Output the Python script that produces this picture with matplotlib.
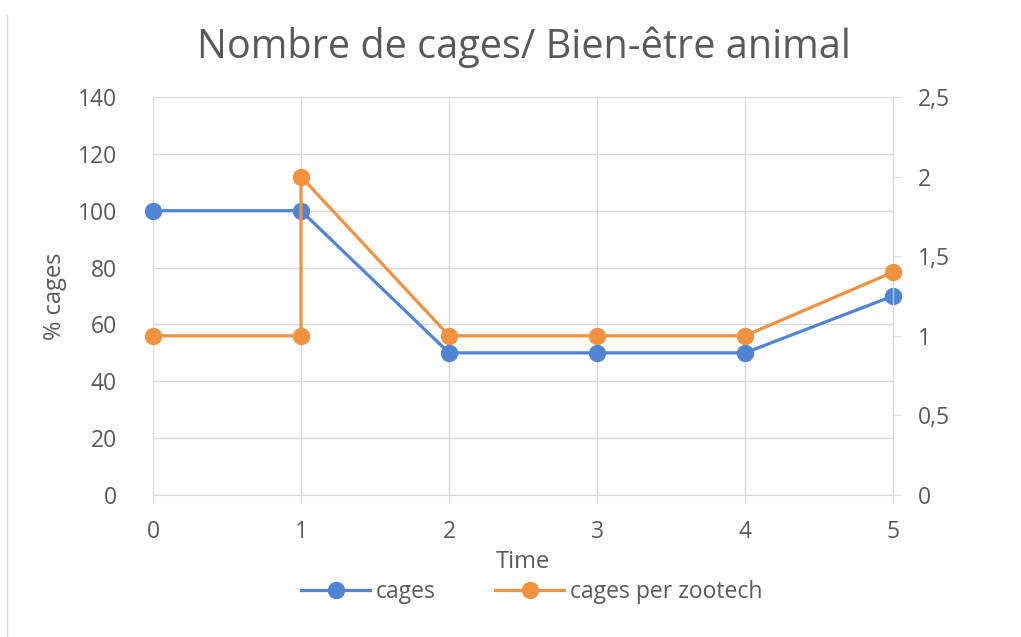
import matplotlib
matplotlib.use("Agg")
import matplotlib.pyplot as plt
from matplotlib.lines import Line2D

# Data
time_cages = [0, 1, 2, 3, 4, 5]
cages = [100, 100, 50, 50, 50, 70]
time_zoo = [0, 1, 1, 2, 3, 4, 5]
cages_per_zootech = [1, 1, 2, 1, 1, 1, 1.4]
left_ticks = [0, 20, 40, 60, 80, 100, 120, 140]
right_ticks = [0, 0.5, 1, 1.5, 2, 2.5]
right_labels = ["0", "0,5", "1", "1,5", "2", "2,5"]
x_ticks = [0, 1, 2, 3, 4, 5]

plt.rcParams['font.family'] = ['Open Sans', 'DejaVu Sans']
TXT = '#595959'
GRID = '#D9D9D9'
BLUE = '#4F84D6'
ORANGE = '#F2923F'

fig = plt.figure(figsize=(10.21, 6.37), dpi=100)
ax = fig.add_axes([153/1021, 1-495/637, (893-153)/1021, (495-97)/637])
ax2 = ax.twinx()

ax.plot(time_cages, cages, color=BLUE, lw=2.3, marker='o', ms=11.5, zorder=3, clip_on=False)
ax2.plot(time_zoo, cages_per_zootech, color=ORANGE, lw=2.3, marker='o', ms=11.5, zorder=3, clip_on=False)

ax.set_xlim(0, 5)
ax.set_ylim(0, 140)
ax2.set_ylim(0, 2.5)
ax.set_xticks(x_ticks)
ax.set_xticklabels([str(x) for x in x_ticks])
ax.set_yticks(left_ticks)
ax2.set_yticks(right_ticks)
ax2.set_yticklabels(right_labels)

ax.grid(True, color=GRID, lw=1)
ax.set_axisbelow(True)
for a in (ax, ax2):
    for s in a.spines.values():
        s.set_visible(False)
ax.spines['left'].set_visible(True)
ax.spines['left'].set_color(GRID)
ax.spines['bottom'].set_visible(True)
ax.spines['bottom'].set_color(GRID)
ax2.spines['right'].set_visible(True)
ax2.spines['right'].set_color(GRID)

ax.tick_params(axis='x', colors=GRID, labelcolor=TXT, labelsize=16.5, length=6, pad=12)
ax.tick_params(axis='y', length=0, labelcolor=TXT, labelsize=16.5, pad=26)
ax2.tick_params(axis='y', colors=GRID, labelcolor=TXT, labelsize=16.5, length=6, pad=12)

ax.set_xlabel('Time', color=TXT, fontsize=17, labelpad=4)
ax.set_ylabel('% cages', color=TXT, fontsize=17, labelpad=8)
fig.text(0.513, 0.926, 'Nombre de cages/ Bien-être animal', ha='center', va='center',
         color=TXT, fontsize=28.5)

handles = [Line2D([], [], color=BLUE, lw=2.3, marker='o', ms=11.5),
           Line2D([], [], color=ORANGE, lw=2.3, marker='o', ms=11.5)]
leg = fig.legend(handles, ['cages', 'cages per zootech'], loc='center',
                 bbox_to_anchor=(0.521, 1-592/637), ncol=2, frameon=False,
                 fontsize=16.5, handlelength=3.0, columnspacing=2.6, handletextpad=0.25)
for t in leg.get_texts():
    t.set_color(TXT)

fig.add_artist(Line2D([7/1021, 7/1021], [0, 1-15/637], color='#DDDDDD', lw=1))

fig.savefig('out.png', dpi=100)
